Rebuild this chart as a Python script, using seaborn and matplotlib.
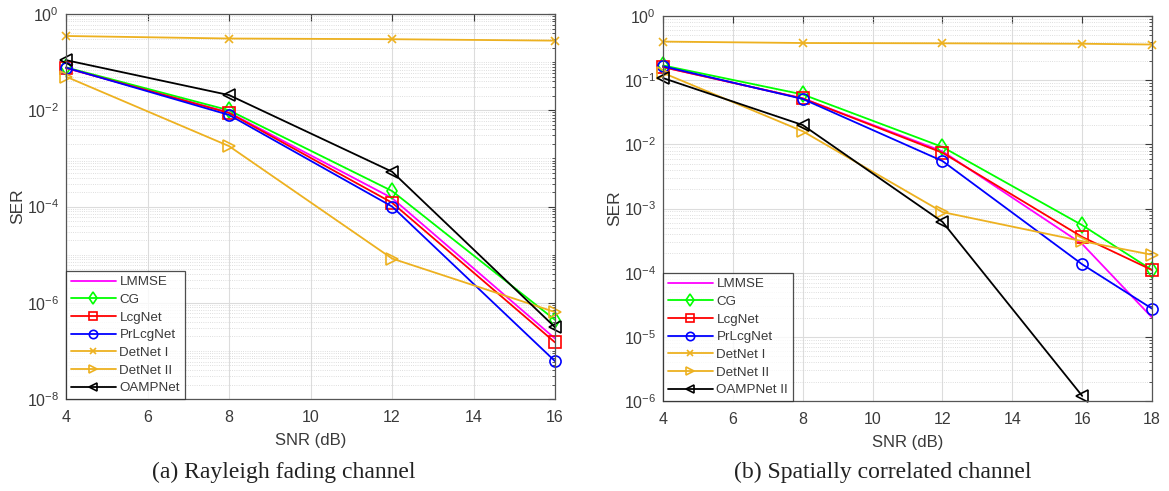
import numpy as np
import pandas as pd
import matplotlib
matplotlib.use("Agg")
import matplotlib.pyplot as plt
import matplotlib.ticker as mticker
import seaborn as sns

# ---------------- data ----------------
snr_a = [4, 8, 12, 16]
lmmse_a = [0.075, 0.0090, 1.5e-4, 1.8e-7]
cg_a = [0.078, 0.0100, 2.1e-4, 4.4e-7]
lcgnet_a = [0.076, 0.0088, 1.2e-4, 1.5e-7]
prlcgnet_a = [0.077, 0.0080, 1.0e-4, 6.1e-8]
detnet1_a = [0.35, 0.31, 0.30, 0.28]
detnet2_a = [0.050, 1.8e-3, 8.3e-6, 6.4e-7]
oampnet_a = [0.11, 0.0207, 5.3e-4, 3.1e-7]

snr_b = [4, 8, 12, 16, 18]
lmmse_b = [0.16, 0.052, 7.8e-3, 2.8e-4, 2.0e-5]
cg_b = [0.17, 0.060, 9.1e-3, 5.5e-4, 1.1e-4]
lcgnet_b = [0.16, 0.052, 7.4e-3, 3.6e-4, 1.1e-4]
prlcgnet_b = [0.165, 0.051, 5.5e-3, 1.35e-4, 2.75e-5]
detnet1_b = [0.40, 0.38, 0.376, 0.37, 0.36]
detnet2_b = [0.13, 0.016, 8.8e-4, 3.1e-4, 1.9e-4]
snr_b_oamp = [4, 8, 12, 16]
oampnet2_b = [0.108, 0.020, 6.2e-4, 1.2e-6]

labels_a = ["LMMSE", "CG", "LcgNet", "PrLcgNet", "DetNet I", "DetNet II", "OAMPNet"]
labels_b = ["LMMSE", "CG", "LcgNet", "PrLcgNet", "DetNet I", "DetNet II", "OAMPNet II"]
colors = ["#FF00FF", "#00FF00", "#FF0000", "#0000FF", "#EDB120", "#EDB120", "#000000"]
markers = [None, "d", "s", "o", "x", ">", "<"]

# ---------------- style ----------------
sns.set_theme(style="white")
plt.rcParams["font.family"] = ["Liberation Sans", "DejaVu Sans"]
plt.rcParams["mathtext.fontset"] = "custom"
plt.rcParams["mathtext.rm"] = "Liberation Sans"
plt.rcParams["mathtext.it"] = "Liberation Sans:italic"

TXT = "#3a3a3a"

fig = plt.figure(figsize=(11.69, 4.91), dpi=100)
ax_a = fig.add_axes([0.0565, 0.1874, 0.4183, 0.784])
ax_b = fig.add_axes([0.5672, 0.1833, 0.4183, 0.784])


def draw(ax, xs_list, ys_list, labels):
    for xs, ys, lab, c, m in zip(xs_list, ys_list, labels, colors, markers):
        df = pd.DataFrame({"x": xs, "y": ys})
        kw = dict(color=c, linewidth=1.3, label=lab, clip_on=False)
        if m is not None:
            kw.update(marker=m, markersize=8 if m != "x" else 6,
                      markerfacecolor="none", markeredgecolor=c,
                      markeredgewidth=1.2)
        sns.lineplot(data=df, x="x", y="y", ax=ax, legend=False, **kw)
    ax.set_yscale("log")


draw(ax_a,
     [snr_a] * 7,
     [lmmse_a, cg_a, lcgnet_a, prlcgnet_a, detnet1_a, detnet2_a, oampnet_a],
     labels_a)
draw(ax_b,
     [snr_b] * 6 + [snr_b_oamp],
     [lmmse_b, cg_b, lcgnet_b, prlcgnet_b, detnet1_b, detnet2_b, oampnet2_b],
     labels_b)

ax_a.set_xlim(4, 16)
ax_a.set_ylim(1e-8, 1)
ax_a.set_xticks([4, 6, 8, 10, 12, 14, 16])
ax_a.yaxis.set_major_locator(mticker.FixedLocator([1e-8, 1e-6, 1e-4, 1e-2, 1]))

ax_b.set_xlim(4, 18)
ax_b.set_ylim(1e-6, 1)
ax_b.set_xticks([4, 6, 8, 10, 12, 14, 16, 18])
ax_b.yaxis.set_major_locator(mticker.FixedLocator([1e-6, 1e-5, 1e-4, 1e-3, 1e-2, 1e-1, 1]))

for ax in (ax_a, ax_b):
    ax.yaxis.set_major_formatter(mticker.LogFormatterSciNotation())
    ax.yaxis.set_minor_locator(mticker.LogLocator(base=10, subs=np.arange(1, 10), numticks=50))
    ax.yaxis.set_minor_formatter(mticker.NullFormatter())
    ax.tick_params(which="both", direction="in", top=True, right=True,
                   colors=TXT, labelsize=11.5)
    ax.tick_params(which="major", length=5, width=0.8)
    ax.tick_params(which="minor", length=2.5, width=0.6)
    ax.tick_params(axis="x", which="major", pad=8)
    ax.tick_params(axis="y", which="major", pad=5)
    ax.tick_params(axis="x", which="minor", top=False, bottom=False)
    ax.grid(True, which="major", color="#dcdcdc", linewidth=0.8, linestyle="-")
    ax.grid(True, which="minor", axis="y", color="#d4d4d4", linewidth=0.6, linestyle=":")
    ax.set_axisbelow(True)
    for s in ax.spines.values():
        s.set_color("#555555")
        s.set_linewidth(0.9)
    ax.set_xlabel("SNR (dB)", fontsize=12, color=TXT, labelpad=6)
    ax.set_ylabel("SER", fontsize=12.5, color=TXT, labelpad=1)
    leg = ax.legend(loc="lower left", fontsize=9.6, frameon=True, fancybox=False,
                    borderaxespad=0, handlelength=3.4, labelspacing=0.4,
                    borderpad=0.35, handletextpad=0.25, markerscale=0.75)
    leg.get_frame().set_edgecolor("#222222")
    leg.get_frame().set_linewidth(0.9)
    for t in leg.get_texts():
        t.set_color(TXT)

fig.text(0.2425, 0.038, "(a) Rayleigh fading channel", ha="center", va="center",
         fontsize=17, family=["Liberation Serif", "DejaVu Serif"], color="#222222")
fig.text(0.755, 0.038, "(b) Spatially correlated channel", ha="center", va="center",
         fontsize=17, family=["Liberation Serif", "DejaVu Serif"], color="#222222")

fig.savefig("out.png", dpi=100)
